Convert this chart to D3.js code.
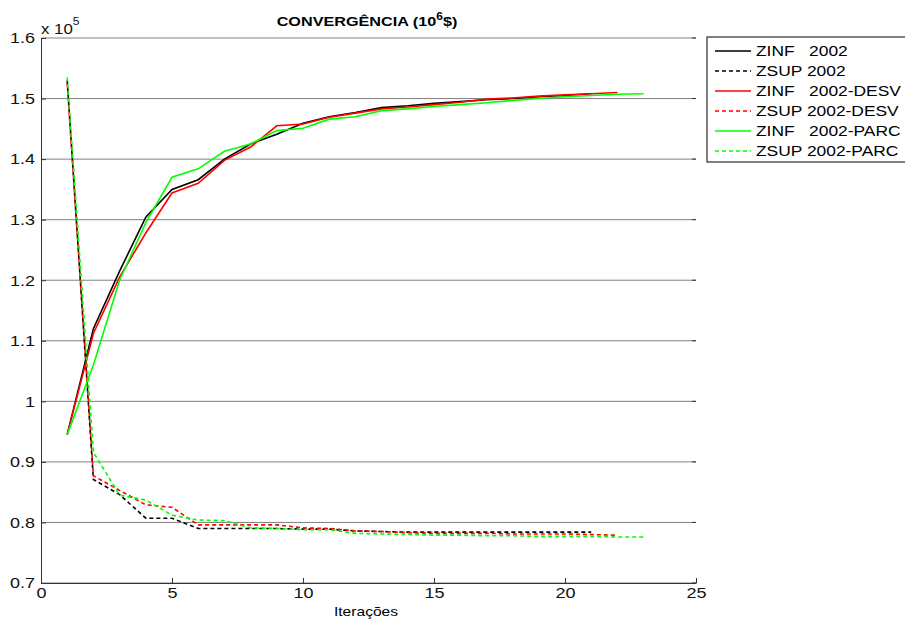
<!DOCTYPE html>
<html lang="pt-br">
<head>
  <meta charset="utf-8">
  <title>Convergência</title>
  <script src="https://d3js.org/d3.v7.min.js"></script>
  <style>
    body { margin: 0; background: #fff; font-family: "Liberation Sans", Arial, sans-serif; }
    .grade line { stroke: #808080; stroke-width: 1; }
    .eixo path, .eixo line { stroke: #333; }
    .eixo text { font-size: 15px; fill: #111; font-family: "Liberation Sans", Arial, sans-serif; }
  </style>
</head>
<body>
<div id="vis"></div>
<script>
  // iteracoes (eixo x)
  var iteracoes = [1, 2, 3, 4, 5, 6, 7, 8, 9, 10, 11, 12, 13, 14, 15, 16, 17, 18, 19, 20, 21, 22, 23];

  // valores em x 10^5
  var zinf2002 = [0.945, 1.120, 1.215, 1.304, 1.350, 1.366, 1.400, 1.425, 1.441, 1.459, 1.470, 1.477, 1.485, 1.488, 1.492, 1.495, 1.498, 1.500, 1.503, 1.505, 1.508];
  var zsup2002 = [1.530, 0.871, 0.846, 0.807, 0.807, 0.790, 0.790, 0.790, 0.790, 0.789, 0.789, 0.786, 0.785, 0.784, 0.784, 0.784, 0.784, 0.784, 0.784, 0.784, 0.784];
  var zinfDesv = [0.945, 1.112, 1.205, 1.278, 1.344, 1.360, 1.398, 1.420, 1.455, 1.458, 1.469, 1.476, 1.483, 1.486, 1.490, 1.494, 1.499, 1.501, 1.504, 1.506, 1.508, 1.510];
  var zsupDesv = [1.525, 0.877, 0.853, 0.829, 0.825, 0.796, 0.796, 0.796, 0.796, 0.791, 0.790, 0.786, 0.785, 0.783, 0.782, 0.782, 0.782, 0.781, 0.781, 0.781, 0.780, 0.779];
  var zinfParc = [0.945, 1.060, 1.200, 1.295, 1.370, 1.384, 1.413, 1.425, 1.447, 1.451, 1.466, 1.470, 1.480, 1.483, 1.487, 1.490, 1.493, 1.497, 1.500, 1.503, 1.505, 1.507, 1.508];
  var zsupParc = [1.535, 0.916, 0.845, 0.837, 0.812, 0.804, 0.803, 0.791, 0.790, 0.788, 0.788, 0.782, 0.781, 0.780, 0.779, 0.779, 0.778, 0.778, 0.777, 0.777, 0.777, 0.776, 0.776];

  var xTicks = [0, 5, 10, 15, 20, 25];
  var yTicks = [0.7, 0.8, 0.9, 1, 1.1, 1.2, 1.3, 1.4, 1.5, 1.6];

  var series = [
    { nome: "ZINF   2002", valores: zinf2002, cor: "#000000", tracejado: false },
    { nome: "ZSUP 2002", valores: zsup2002, cor: "#000000", tracejado: true },
    { nome: "ZINF   2002-DESV", valores: zinfDesv, cor: "#ff0000", tracejado: false },
    { nome: "ZSUP 2002-DESV", valores: zsupDesv, cor: "#ff0000", tracejado: true },
    { nome: "ZINF   2002-PARC", valores: zinfParc, cor: "#00ff00", tracejado: false },
    { nome: "ZSUP 2002-PARC", valores: zsupParc, cor: "#00ff00", tracejado: true }
  ];

  // o grafico original esta esticado na horizontal
  var esticar = 1.2;

  var larguraSVG = 905, alturaSVG = 619;
  var margin = { top: 38, right: 209, bottom: 36, left: 41 },
    larguraVis = larguraSVG - margin.left - margin.right,
    alturaVis = alturaSVG - margin.top - margin.bottom;

  var svg = d3.select("#vis").append("svg")
    .attr("width", larguraSVG)
    .attr("height", alturaSVG);

  var grafico = svg.append("g")
    .attr("transform", "translate(" + margin.left + "," + margin.top + ")");

  var x = d3.scaleLinear().domain([0, 25]).range([0, larguraVis]);
  var y = d3.scaleLinear().domain([0.7, 1.6]).range([alturaVis, 0]);

  // grade horizontal
  grafico.append("g")
    .attr("class", "grade")
    .selectAll("line")
    .data(yTicks)
    .enter()
    .append("line")
    .attr("x1", 0)
    .attr("x2", larguraVis)
    .attr("y1", d => y(d))
    .attr("y2", d => y(d));

  // eixos
  var eixoX = grafico.append("g")
    .attr("class", "eixo")
    .attr("transform", "translate(0," + alturaVis + ")")
    .call(d3.axisBottom(x).tickValues(xTicks).tickSizeInner(-5).tickSizeOuter(0).tickPadding(4).tickFormat(d3.format("d")));
  eixoX.selectAll("text").attr("transform", "scale(" + esticar + ",1)");

  var eixoY = grafico.append("g")
    .attr("class", "eixo")
    .call(d3.axisLeft(y).tickValues(yTicks).tickSizeInner(-5).tickSizeOuter(0).tickPadding(5).tickFormat(d => d3.format("")(+d.toFixed(1))));
  eixoY.selectAll("text").attr("transform", "scale(" + esticar + ",1)");

  // marcas no lado direito
  grafico.append("g")
    .selectAll("line")
    .data(yTicks)
    .enter()
    .append("line")
    .attr("x1", larguraVis - 4)
    .attr("x2", larguraVis)
    .attr("y1", d => y(d))
    .attr("y2", d => y(d))
    .attr("stroke", "#333");

  // linhas
  var linha = d3.line()
    .x((d, i) => x(iteracoes[i]))
    .y(d => y(d));

  series.forEach(function (s) {
    grafico.append("path")
      .datum(s.valores)
      .attr("fill", "none")
      .attr("stroke", s.cor)
      .attr("stroke-width", 1.6)
      .attr("stroke-dasharray", s.tracejado ? "4,3" : null)
      .attr("d", linha);
  });

  function texto(px, py) {
    return svg.append("text")
      .attr("transform", "translate(" + px + "," + py + ") scale(" + esticar + ",1)");
  }

  // multiplicador
  var mult = texto(41, 34)
    .attr("font-size", 14)
    .attr("fill", "#111");
  mult.append("tspan").text("x 10");
  mult.append("tspan").attr("dy", -9).attr("font-size", 10).text("5");

  // titulo
  var titulo = texto(367, 26)
    .attr("text-anchor", "middle")
    .attr("font-size", 13.5)
    .attr("font-weight", "bold")
    .attr("fill", "#000");
  titulo.append("tspan").text("CONVERGÊNCIA (10");
  titulo.append("tspan").attr("dy", -6).attr("font-size", 10).text("6");
  titulo.append("tspan").attr("dy", 6).text("$)");

  texto(366, 616)
    .attr("text-anchor", "middle")
    .attr("font-size", 13)
    .attr("fill", "#000")
    .text("Iterações");

  // legenda
  var legenda = svg.append("g").attr("transform", "translate(707,37)");
  legenda.append("rect")
    .attr("width", 220)
    .attr("height", 125)
    .attr("fill", "#fff")
    .attr("stroke", "#000")
    .attr("stroke-width", 1);

  var itens = legenda.selectAll("g.item")
    .data(series)
    .enter()
    .append("g")
    .attr("class", "item")
    .attr("transform", (d, i) => "translate(0," + (14 + i * 20) + ")");

  itens.append("line")
    .attr("x1", 8)
    .attr("x2", 44)
    .attr("y1", 0)
    .attr("y2", 0)
    .attr("stroke", d => d.cor)
    .attr("stroke-width", 1.6)
    .attr("stroke-dasharray", d => d.tracejado ? "4,3" : null);

  itens.append("text")
    .attr("transform", "translate(49,5) scale(" + esticar + ",1)")
    .attr("font-size", 14.5)
    .attr("fill", "#000")
    .style("white-space", "pre")
    .text(d => d.nome);
</script>
</body>
</html>
